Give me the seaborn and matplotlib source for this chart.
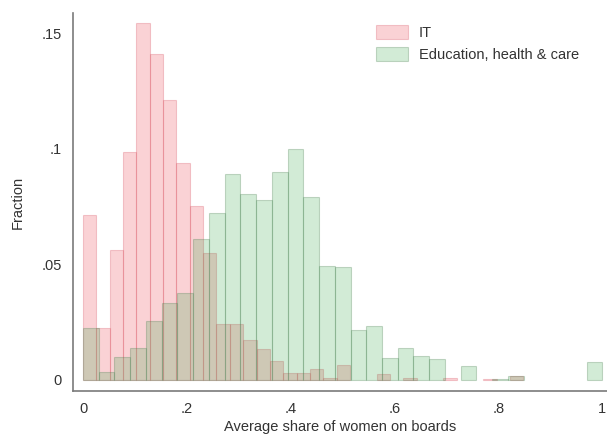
import numpy as np
import matplotlib
matplotlib.use("Agg")
import matplotlib.pyplot as plt
import seaborn as sns

# fraction of firms per bin
it_width = 0.0257
it_frac = [0.0713, 0.0223, 0.0562, 0.0984, 0.1545, 0.1408, 0.1210, 0.0937,
           0.0752, 0.0548, 0.0242, 0.0242, 0.0173, 0.0134, 0.0084, 0.0032,
           0.0030, 0.0046, 0.0010, 0.0065, 0.0, 0.0, 0.0024, 0.0,
           0.0008, 0.0, 0.0, 0.0008, 0.0, 0.0, 0.0005, 0.0, 0.0017]

edu_width = 1 / 33
edu_frac = [0.0223, 0.0036, 0.0101, 0.0137, 0.0256, 0.0331, 0.0375, 0.0608,
            0.0720, 0.0890, 0.0806, 0.0778, 0.0900, 0.0997, 0.0793, 0.0494,
            0.0487, 0.0216, 0.0234, 0.0097, 0.0140, 0.0105, 0.0089, 0.0,
            0.0062, 0.0, 0.0006, 0.0017, 0.0, 0.0, 0.0, 0.0, 0.0076]

x_ticks = [0, 0.2, 0.4, 0.6, 0.8, 1.0]
x_ticklabels = ["0", ".2", ".4", ".6", ".8", "1"]
y_ticks = [0, 0.05, 0.1, 0.15]
y_ticklabels = ["0", ".05", ".1", ".15"]

it_edges = np.arange(len(it_frac) + 1) * it_width
edu_edges = np.arange(len(edu_frac) + 1) * edu_width
it_mid = it_edges[:-1] + it_width / 2
edu_mid = edu_edges[:-1] + edu_width / 2

sns.set_style("white")
plt.rcParams["font.family"] = ["Liberation Sans", "DejaVu Sans"]
plt.rcParams["font.size"] = 10.5

fig = plt.figure(figsize=(6.07, 4.38), dpi=100)
ax = fig.add_axes([73 / 607, 1 - 391 / 438, (607 - 73) / 607, (391 - 13) / 438])

sns.histplot(x=it_mid, weights=it_frac, bins=list(it_edges), ax=ax,
             facecolor=(0.92, 0.2, 0.25, 0.22), edgecolor=(0.85, 0.35, 0.4, 0.3),
             linewidth=0.8, label="IT")
sns.histplot(x=edu_mid, weights=edu_frac, bins=list(edu_edges), ax=ax,
             facecolor=(0.2, 0.65, 0.28, 0.22), edgecolor=(0.3, 0.5, 0.33, 0.3),
             linewidth=0.8, label="Education, health & care")

# hide empty bins
for p in ax.patches:
    if p.get_height() == 0:
        p.set_visible(False)

ax.set_xlim(-0.0193, 1.009)
ax.set_ylim(-0.00476, 0.1587)
ax.set_xticks(x_ticks, x_ticklabels)
ax.set_yticks(y_ticks, y_ticklabels)
ax.tick_params(length=0, colors="#333333", labelsize=10.5)
ax.tick_params(axis="x", pad=8)
ax.tick_params(axis="y", pad=8)

for s in ["top", "right"]:
    ax.spines[s].set_visible(False)
for s in ["left", "bottom"]:
    ax.spines[s].set_color("#7a7a7a")
    ax.spines[s].set_linewidth(1.2)

ax.set_xlabel("Average share of women on boards", color="#333333", fontsize=10.5, labelpad=3)
ax.set_ylabel("Fraction", color="#333333", fontsize=10.5, labelpad=12)

ax.legend(loc="upper left", bbox_to_anchor=(376 / 607, 1 - 25 / 438),
          bbox_transform=fig.transFigure, frameon=False, borderpad=0,
          borderaxespad=0, handlelength=2.2, handleheight=1.15,
          handletextpad=0.75, labelspacing=0.45, labelcolor="#333333")

fig.savefig("out.png", dpi=100)
